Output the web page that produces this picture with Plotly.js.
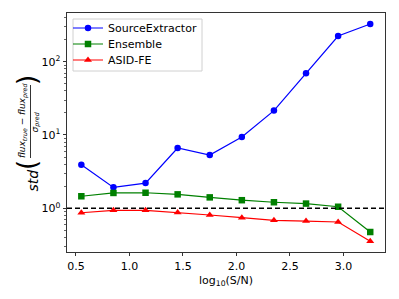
<!DOCTYPE html>
<html>
<head>
<meta charset="utf-8">
<script src="https://cdn.plot.ly/plotly-3.0.1.min.js"></script>
<style>html,body{margin:0;padding:0;background:#fff;}#chart{width:399px;height:299px;}</style>
</head>
<body>
<div id="chart"></div>
<script>
// Data
var snr = [0.55, 0.85, 1.15, 1.45, 1.75, 2.05, 2.35, 2.65, 2.95, 3.25];
var sourceExtractor = [3.93, 1.93, 2.21, 6.65, 5.33, 9.4, 21.5, 69.5, 224, 327];
var ensemble = [1.46, 1.62, 1.63, 1.55, 1.41, 1.29, 1.21, 1.16, 1.05, 0.475];
var asidFE = [0.87, 0.94, 0.94, 0.88, 0.81, 0.745, 0.685, 0.67, 0.65, 0.355];
var seriesNames = ['SourceExtractor', 'Ensemble', 'ASID-FE'];
var xTickVals = [0.5, 1.0, 1.5, 2.0, 2.5, 3.0];
var yTickVals = [1, 10, 100];
var yTickText = ['10<sup>0</sup>', '10<sup>1</sup>', '10<sup>2</sup>'];
var yMinorVals = [0.3,0.4,0.5,0.6,0.7,0.8,0.9,2,3,4,5,6,7,8,9,20,30,40,50,60,70,80,90,200,300,400];

var FONT = 'DejaVu Sans, sans-serif';
var W = 399, H = 299, ML = 67, MR = 14, MT = 13, MB = 47;
var PW = W - ML - MR, PH = H - MT - MB;
function px(x) { return (x - ML) / PW; }
function py(y) { return (H - MB - y) / PH; }

var traces = [
  {x: snr, y: sourceExtractor, name: seriesNames[0], mode: 'lines+markers', legend: 'legend',
   line: {color: '#0000ff', width: 1.2}, marker: {color: '#0000ff', symbol: 'circle', size: 6.5}},
  {x: snr, y: ensemble, name: seriesNames[1], mode: 'lines+markers', legend: 'legend2',
   line: {color: '#008000', width: 1.2}, marker: {color: '#008000', symbol: 'square', size: 6.5}},
  {x: snr, y: asidFE, name: seriesNames[2], mode: 'lines+markers', legend: 'legend3',
   line: {color: '#ff0000', width: 1.2}, marker: {color: '#ff0000', symbol: 'triangle-up', size: 7}}
];

function ann(text, x, y, size) {
  return {text: text, xref: 'paper', yref: 'paper', x: px(x), y: py(y),
    xanchor: 'center', yanchor: 'middle', showarrow: false, textangle: -90,
    font: {family: FONT, size: size, color: '#000'}};
}
function leg(rowY) {
  return {x: px(68), y: py(rowY), xanchor: 'left', yanchor: 'middle',
    bgcolor: 'rgba(0,0,0,0)', borderwidth: 0, itemwidth: 30,
    font: {family: FONT, size: 11, color: '#000'}};
}

var layout = {
  width: W, height: H,
  margin: {l: ML, r: MR, t: MT, b: MB},
  paper_bgcolor: '#fff', plot_bgcolor: '#fff',
  font: {family: FONT, size: 11, color: '#000'},
  showlegend: true,
  legend: leg(28), legend2: leg(44), legend3: leg(60),
  xaxis: {
    range: [0.416, 3.388], tickvals: xTickVals, tickformat: '.1f',
    ticks: 'outside', ticklen: 3.5, tickwidth: 0.8, tickcolor: '#000',
    showline: true, linecolor: '#000', linewidth: 0.8, mirror: true,
    showgrid: false, zeroline: false,
    tickfont: {family: FONT, size: 11, color: '#000'},
    title: {text: 'log<sub>10</sub>(S/N)', font: {family: FONT, size: 11, color: '#000'}, standoff: 4}
  },
  yaxis: {
    type: 'log', range: [-0.596, 2.664], tickvals: yTickVals, ticktext: yTickText,
    ticks: 'outside', ticklen: 3.5, tickwidth: 0.8, tickcolor: '#000',
    minor: {tickvals: yMinorVals, ticks: 'outside', ticklen: 2, tickwidth: 0.6, tickcolor: '#000'},
    showline: true, linecolor: '#000', linewidth: 0.8, mirror: true,
    showgrid: false, zeroline: false,
    tickfont: {family: FONT, size: 11, color: '#000'}
  },
  shapes: [
    {type: 'line', xref: 'paper', yref: 'y', x0: 0, x1: 1, y0: 1, y1: 1,
     line: {color: '#000', width: 1.5, dash: '5px,3px'}},
    {type: 'rect', xref: 'paper', yref: 'paper', x0: px(73), x1: px(202), y0: py(19), y1: py(71),
     line: {color: '#d0d0d0', width: 1}, fillcolor: 'rgba(255,255,255,0.9)', layer: 'below'},
    {type: 'line', xref: 'paper', yref: 'paper', x0: px(30.5), x1: px(30.5), y0: py(85), y1: py(158),
     line: {color: '#000', width: 0.8}}
  ],
  annotations: [
    ann('<i>std</i>', 32.5, 181, 14),
    ann('(', 27, 165, 26),
    ann(')', 27, 80, 26),
    ann('<i>flux</i><sub><i>true</i></sub> − <i>flux</i><sub><i>pred</i></sub>', 23, 121, 9),
    ann('<i>σ</i><sub><i>pred</i></sub>', 35.5, 122, 9)
  ]
};

Plotly.newPlot('chart', traces, layout, {displayModeBar: false, staticPlot: true});
</script>
</body>
</html>
